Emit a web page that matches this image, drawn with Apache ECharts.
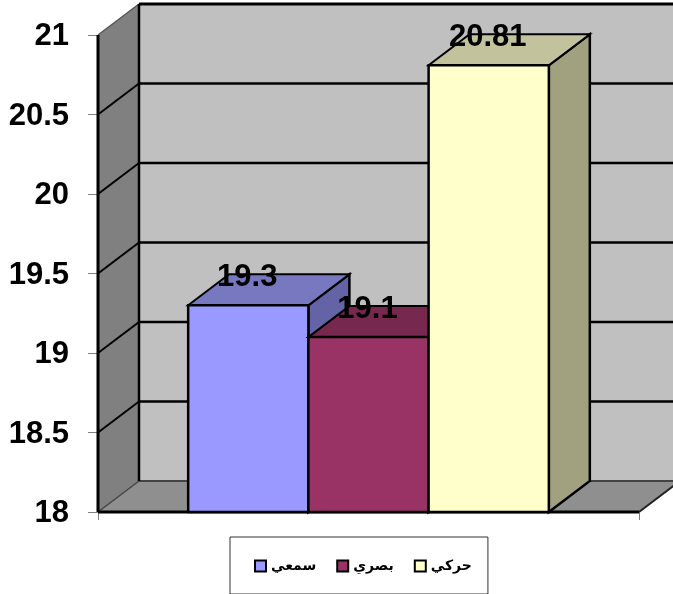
<!DOCTYPE html>
<html>
<head>
<meta charset="utf-8">
<style>
    html, body { margin: 0; padding: 0; background: #fff; }
    #chart { width: 673px; height: 594px; }
</style>
<script src="https://cdn.jsdelivr.net/npm/echarts@6/dist/echarts.min.js"></script>
</head>
<body>
<div id="chart"></div>
<script>
    // data
    const seriesNames = ['سمعي', 'بصري', 'حركي'];
    const seriesValues = [19.3, 19.1, 20.81];
    const valueLabels = ['19.3', '19.1', '20.81'];
    const tickValues = [18, 18.5, 19, 19.5, 20, 20.5, 21];

    // colours: front, top, side
    const frontColors = ['#9999ff', '#993366', '#ffffcc'];
    const topColors = ['#7878c0', '#77284f', '#c2c29c'];
    const sideColors = ['#6363a6', '#5f2040', '#a1a180'];

    // 3d look
    const depthX = 41;
    const depthY = -31;
    const barsPerBand = 4.5;

    const chart = echarts.init(document.getElementById('chart'));

    function line(x1, y1, x2, y2, color, width) {
        return {
            type: 'line',
            shape: { x1: x1, y1: y1, x2: x2, y2: y2 },
            style: { stroke: color, lineWidth: width, fill: null }
        };
    }

    function poly(points, fill, stroke, width) {
        return {
            type: 'polygon',
            shape: { points: points },
            style: { fill: fill, stroke: stroke, lineWidth: width }
        };
    }

    // back wall, left wall, floor and the grid lines on them
    function renderWalls(params, api) {
        const band = api.size([1, 0])[0];
        const cx = api.coord([0, tickValues[0]])[0];
        const left = cx - band / 2;
        const right = cx + band / 2;
        const bottom = api.coord([0, tickValues[0]])[1];
        const top = api.coord([0, tickValues[tickValues.length - 1]])[1];
        const children = [
            poly([[left + depthX, top + depthY], [right + depthX, top + depthY], [right + depthX, bottom + depthY], [left + depthX, bottom + depthY]], '#c0c0c0', null, 0),
            poly([[left, top], [left + depthX, top + depthY], [left + depthX, bottom + depthY], [left, bottom]], '#808080', null, 0),
            poly([[left, bottom], [left + depthX, bottom + depthY], [right + depthX, bottom + depthY], [right, bottom]], '#8f8f8f', null, 0)
        ];
        tickValues.forEach(function (v, i) {
            const y = api.coord([0, v])[1];
            if (i === 0) {
                children.push(line(left + depthX, y + depthY, right + depthX, y + depthY, '#444', 2));
                children.push(line(left, y, left + depthX, y + depthY, '#444', 1.5));
                children.push(line(right, y, right + depthX, y + depthY, '#222', 2));
            } else if (i === tickValues.length - 1) {
                children.push(line(left + depthX, y + depthY, right + depthX, y + depthY, '#000', 3));
                children.push(line(left, y, left + depthX, y + depthY, '#555', 1.5));
            } else {
                children.push(line(left + depthX, y + depthY, right + depthX, y + depthY, '#000', 2.5));
                children.push(line(left, y, left + depthX, y + depthY, '#000', 2));
            }
        });
        children.push(line(left + depthX, top + depthY, left + depthX, bottom + depthY, '#000', 2.5));
        children.push(line(left, top, left, bottom, '#000', 3));
        children.push(line(left, bottom, right, bottom, '#000', 3));
        return { type: 'group', children: children };
    }

    function renderBar(index) {
        return function (params, api) {
            const band = api.size([1, 0])[0];
            const barWidth = band / barsPerBand;
            const cx = api.coord([0, api.value(1)])[0];
            const x0 = cx + (index - seriesNames.length / 2) * barWidth;
            const x1 = x0 + barWidth;
            const yTop = api.coord([0, api.value(1)])[1];
            const yBase = api.coord([0, tickValues[0]])[1];
            return {
                type: 'group',
                children: [
                    poly([[x1, yTop], [x1 + depthX, yTop + depthY], [x1 + depthX, yBase + depthY], [x1, yBase]], sideColors[index], '#000', 2.5),
                    poly([[x0, yTop], [x0 + depthX, yTop + depthY], [x1 + depthX, yTop + depthY], [x1, yTop]], topColors[index], '#000', 2),
                    poly([[x0, yTop], [x1, yTop], [x1, yBase], [x0, yBase]], frontColors[index], '#000', 2.5)
                ]
            };
        };
    }

    // value labels sit over every bar, so they get their own series
    function renderLabel(params, api) {
        const i = params.dataIndex;
        const band = api.size([1, 0])[0];
        const barWidth = band / barsPerBand;
        const pos = api.coord([0, api.value(1)]);
        const x = pos[0] + (i - (seriesNames.length - 1) / 2) * barWidth;
        return {
            type: 'text',
            style: {
                x: x - 1,
                y: pos[1] - 28,
                text: valueLabels[i],
                fill: '#000',
                font: 'bold 31px "Liberation Sans", Arial, sans-serif',
                align: 'center',
                verticalAlign: 'middle'
            }
        };
    }

    const barSeries = seriesNames.map(function (name, i) {
        return {
            name: name,
            type: 'custom',
            z: 3,
            silent: true,
            renderItem: renderBar(i),
            itemStyle: { color: frontColors[i] },
            encode: { x: 0, y: 1 },
            data: [[0, seriesValues[i]]]
        };
    });

    const option = {
        animation: false,
        backgroundColor: '#fff',
        grid: { left: 98, right: 34, top: 35, bottom: 82 },
        legend: {
            data: seriesNames,
            left: 230,
            top: 537,
            orient: 'horizontal',
            icon: 'rect',
            itemWidth: 11,
            itemHeight: 11,
            itemGap: 20,
            padding: [22, 16, 21, 24],
            borderColor: '#333',
            borderWidth: 1,
            selectedMode: false,
            itemStyle: { borderColor: '#000', borderWidth: 2 },
            textStyle: {
                color: '#000',
                fontSize: 14,
                fontWeight: 'bold',
                fontFamily: '"Liberation Sans", "DejaVu Sans", sans-serif'
            }
        },
        xAxis: {
            type: 'category',
            data: [''],
            axisLine: { show: false },
            axisTick: { show: true, length: 8, lineStyle: { color: '#808080', width: 1 } },
            axisLabel: { show: false },
            splitLine: { show: false }
        },
        yAxis: {
            type: 'value',
            min: 18,
            max: 21,
            interval: 0.5,
            axisLine: { show: false },
            axisTick: { show: true, length: 10, lineStyle: { color: '#808080', width: 1 } },
            splitLine: { show: false },
            axisLabel: {
                color: '#000',
                fontSize: 31,
                fontWeight: 'bold',
                fontFamily: '"Liberation Sans", Arial, sans-serif',
                margin: 29,
                verticalAlign: 'top',
                lineHeight: 3
            }
        },
        series: [
            {
                name: 'walls',
                type: 'custom',
                z: 1,
                silent: true,
                renderItem: renderWalls,
                encode: { x: 0, y: 1 },
                data: [[0, tickValues[0]]]
            }
        ].concat(barSeries, [
            {
                name: 'labels',
                type: 'custom',
                z: 5,
                silent: true,
                renderItem: renderLabel,
                encode: { x: 0, y: 1 },
                data: seriesValues.map(function (v) { return [0, v]; })
            }
        ])
    };

    chart.setOption(option);
</script>
</body>
</html>
